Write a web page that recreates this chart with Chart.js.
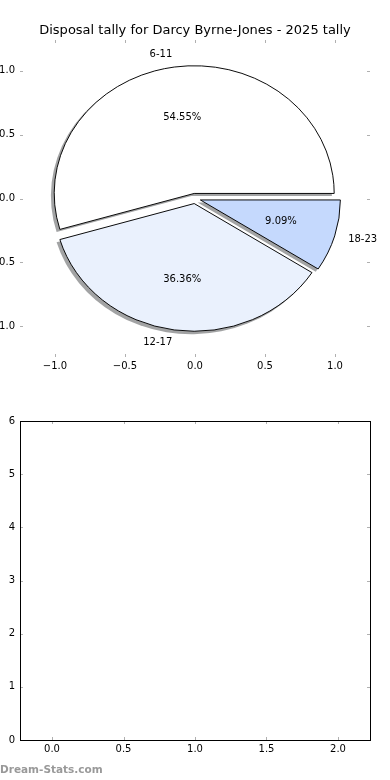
<!DOCTYPE html>
<html>
<head>
<meta charset="utf-8">
<script src="https://cdn.jsdelivr.net/npm/chart.js@4.4.1/dist/chart.umd.min.js"></script>
<style>
  body { margin: 0; background: #fff; width: 390px; height: 780px; position: relative; overflow: hidden; }
  canvas { position: absolute; left: 0; }
  #axTop, #pie { top: 0; }
  #axBottom { top: 390px; }
  #mark { position: absolute; left: 0; top: 763px; font: bold 10.5px "DejaVu Sans"; color: #999; white-space: nowrap; }
</style>
</head>
<body>
<canvas id="axTop" width="390" height="390"></canvas>
<canvas id="pie" width="390" height="390"></canvas>
<canvas id="axBottom" width="390" height="390"></canvas>
<div id="mark">Dream-Stats.com</div>

<script>
// chart values
const categories = ["6-11", "12-17", "18-23"];
const tallies = [6, 4, 1];
const pieTicks = [-1.0, -0.5, 0.0, 0.5, 1.0];
const emptyXTicks = [0.0, 0.5, 1.0, 1.5, 2.0];
const emptyYTicks = [0, 1, 2, 3, 4, 5, 6];

const sliceColors = ["#ffffff", "#eaf1fd", "#c5d9fd"];
const explode = 0.04;   // in radius units
const yScale = 127.7 / 140;   // pie axes are not equal aspect

Chart.defaults.font.family = "DejaVu Sans";
Chart.defaults.font.size = 10;
Chart.defaults.color = "#000";

const fmt = v => (v < 0 ? "\u2212" : "") + Math.abs(v).toFixed(1);

// small grey ticks pointing into the axes on all four sides
const inwardTicks = {
  id: "inwardTicks",
  afterDraw(chart, args, opts) {
    const { ctx, chartArea: a, scales } = chart;
    ctx.save();
    ctx.strokeStyle = "#b0b0b0";
    ctx.lineWidth = 1;
    ctx.beginPath();
    scales.x.ticks.forEach(t => {
      const px = Math.round(scales.x.getPixelForValue(t.value)) + 0.5;
      ctx.moveTo(px, a.top); ctx.lineTo(px, a.top + 3);
      ctx.moveTo(px, a.bottom); ctx.lineTo(px, a.bottom - 3);
    });
    scales.y.ticks.forEach(t => {
      const py = Math.round(scales.y.getPixelForValue(t.value)) + 0.5;
      ctx.moveTo(a.left, py); ctx.lineTo(a.left + 3, py);
      ctx.moveTo(a.right, py); ctx.lineTo(a.right - 3, py);
    });
    ctx.stroke();
    if (opts.frame) {
      ctx.strokeStyle = "#000";
      ctx.strokeRect(Math.round(a.left) + 0.5, Math.round(a.top) + 0.5,
        Math.round(a.right - a.left), Math.round(a.bottom - a.top));
    }
    ctx.restore();
  }
};

// fixed 20px axis strips left and right so the plot area is 20..370
function axisScales(xMin, xMax, xTicks, yMin, yMax, yTicks, xHeight, xFmt, yFmt) {
  return {
    x: {
      type: "linear", min: xMin, max: xMax,
      afterBuildTicks: s => { s.ticks = xTicks.map(v => ({ value: v })); },
      afterFit: s => { s.height = xHeight; },
      ticks: { padding: 3, callback: xFmt, maxRotation: 0 },
      grid: { display: false, drawTicks: false },
      border: { display: false }
    },
    y: {
      type: "linear", min: yMin, max: yMax,
      afterBuildTicks: s => { s.ticks = yTicks.map(v => ({ value: v })); },
      afterFit: s => { s.width = 20; },
      ticks: { padding: 5, callback: yFmt },
      grid: { display: false, drawTicks: false },
      border: { display: false }
    },
    yRight: {
      type: "linear", position: "right", min: yMin, max: yMax,
      afterFit: s => { s.width = 20; },
      ticks: { display: false },
      grid: { display: false, drawTicks: false },
      border: { display: false }
    }
  };
}

// top axes (the pie sits on it)
new Chart(document.getElementById("axTop"), {
  type: "scatter",
  data: { datasets: [] },
  options: {
    responsive: false, animation: false,
    scales: axisScales(-1.25, 1.25, pieTicks, -1.241, 1.241, pieTicks, 33, fmt, fmt),
    plugins: {
      legend: { display: false }, tooltip: { enabled: false },
      title: {
        display: true,
        text: "Disposal tally for Darcy Byrne-Jones - 2025 tally",
        font: { size: 13, weight: "normal" },
        color: "#000",
        padding: { top: 22.5, bottom: 1.9 }
      },
      inwardTicks: { frame: false }
    }
  },
  plugins: [inwardTicks]
});

// elliptical, exploded pie with shadow, labels like matplotlib
const piePainter = {
  id: "piePainter",
  beforeDatasetsDraw(chart) {
    const ctx = chart.ctx;
    const a = chart.chartArea;
    const cx = (a.left + a.right) / 2, cy = (a.top + a.bottom) / 2;
    const arcs = chart.getDatasetMeta(0).data;
    const labels = chart.data.labels;
    const values = chart.data.datasets[0].data;
    const total = values.reduce((s, v) => s + v, 0);

    ctx.save();
    ctx.translate(cx, cy);
    ctx.scale(1, yScale);
    ctx.translate(-cx, -cy);

    // shadows first
    ctx.fillStyle = "rgba(70,71,74,0.5)";
    arcs.forEach(arc => {
      const p = arc.getProps(["x", "y", "startAngle", "endAngle", "outerRadius"], true);
      const mid = (p.startAngle + p.endAngle) / 2;
      const e = explode * p.outerRadius;
      const ox = p.x + Math.cos(mid) * e - 0.02 * p.outerRadius;
      const oy = p.y + Math.sin(mid) * e + 0.02 * p.outerRadius;
      ctx.beginPath();
      ctx.moveTo(ox, oy);
      ctx.arc(ox, oy, p.outerRadius + 0.5, p.startAngle, p.endAngle);
      ctx.closePath();
      ctx.fill();
    });

    // wedges
    arcs.forEach(arc => {
      const p = arc.getProps(["startAngle", "endAngle", "outerRadius"], true);
      const mid = (p.startAngle + p.endAngle) / 2;
      const e = explode * p.outerRadius;
      ctx.save();
      ctx.translate(Math.cos(mid) * e, Math.sin(mid) * e);
      arc.draw(ctx);
      ctx.restore();
    });
    ctx.restore();

    // texts
    ctx.save();
    ctx.fillStyle = "#000";
    ctx.font = "10px 'DejaVu Sans'";
    ctx.textBaseline = "middle";
    arcs.forEach((arc, i) => {
      const p = arc.getProps(["x", "y", "startAngle", "endAngle", "outerRadius"], true);
      const mid = (p.startAngle + p.endAngle) / 2;
      const c = Math.cos(mid), s = Math.sin(mid);
      const r = p.outerRadius;
      const lx = p.x + (explode + 1.1) * r * c;
      const ly = p.y + (explode + 1.1) * r * s * yScale;
      ctx.textAlign = c > 0 ? "left" : "right";
      ctx.fillText(labels[i], lx, ly);
      const tx = p.x + (explode + 0.6) * r * c;
      const ty = p.y + (explode + 0.6) * r * s * yScale;
      ctx.textAlign = "center";
      ctx.fillText((values[i] / total * 100).toFixed(2) + "%", tx, ty);
    });
    ctx.restore();
    return false;
  }
};

// matplotlib goes counter-clockwise from east, Chart.js clockwise: reverse the order
new Chart(document.getElementById("pie"), {
  type: "pie",
  data: {
    labels: categories.slice().reverse(),
    datasets: [{
      data: tallies.slice().reverse(),
      backgroundColor: sliceColors.slice().reverse(),
      borderColor: "#000",
      borderWidth: 1
    }]
  },
  options: {
    responsive: false, animation: false,
    rotation: 90,
    radius: 140,
    layout: { padding: { left: 20, right: 20, top: 40, bottom: 33 } },
    plugins: { legend: { display: false }, tooltip: { enabled: false } }
  },
  plugins: [piePainter]
});

// empty lower axes
new Chart(document.getElementById("axBottom"), {
  type: "scatter",
  data: { datasets: [] },
  options: {
    responsive: false, animation: false,
    layout: { padding: { top: 31 } },
    scales: axisScales(-0.224, 2.224, emptyXTicks, 0, 6, emptyYTicks, 40,
      v => v.toFixed(1), v => String(v)),
    plugins: {
      legend: { display: false }, tooltip: { enabled: false },
      inwardTicks: { frame: true }
    }
  },
  plugins: [inwardTicks]
});
</script>
</body>
</html>
